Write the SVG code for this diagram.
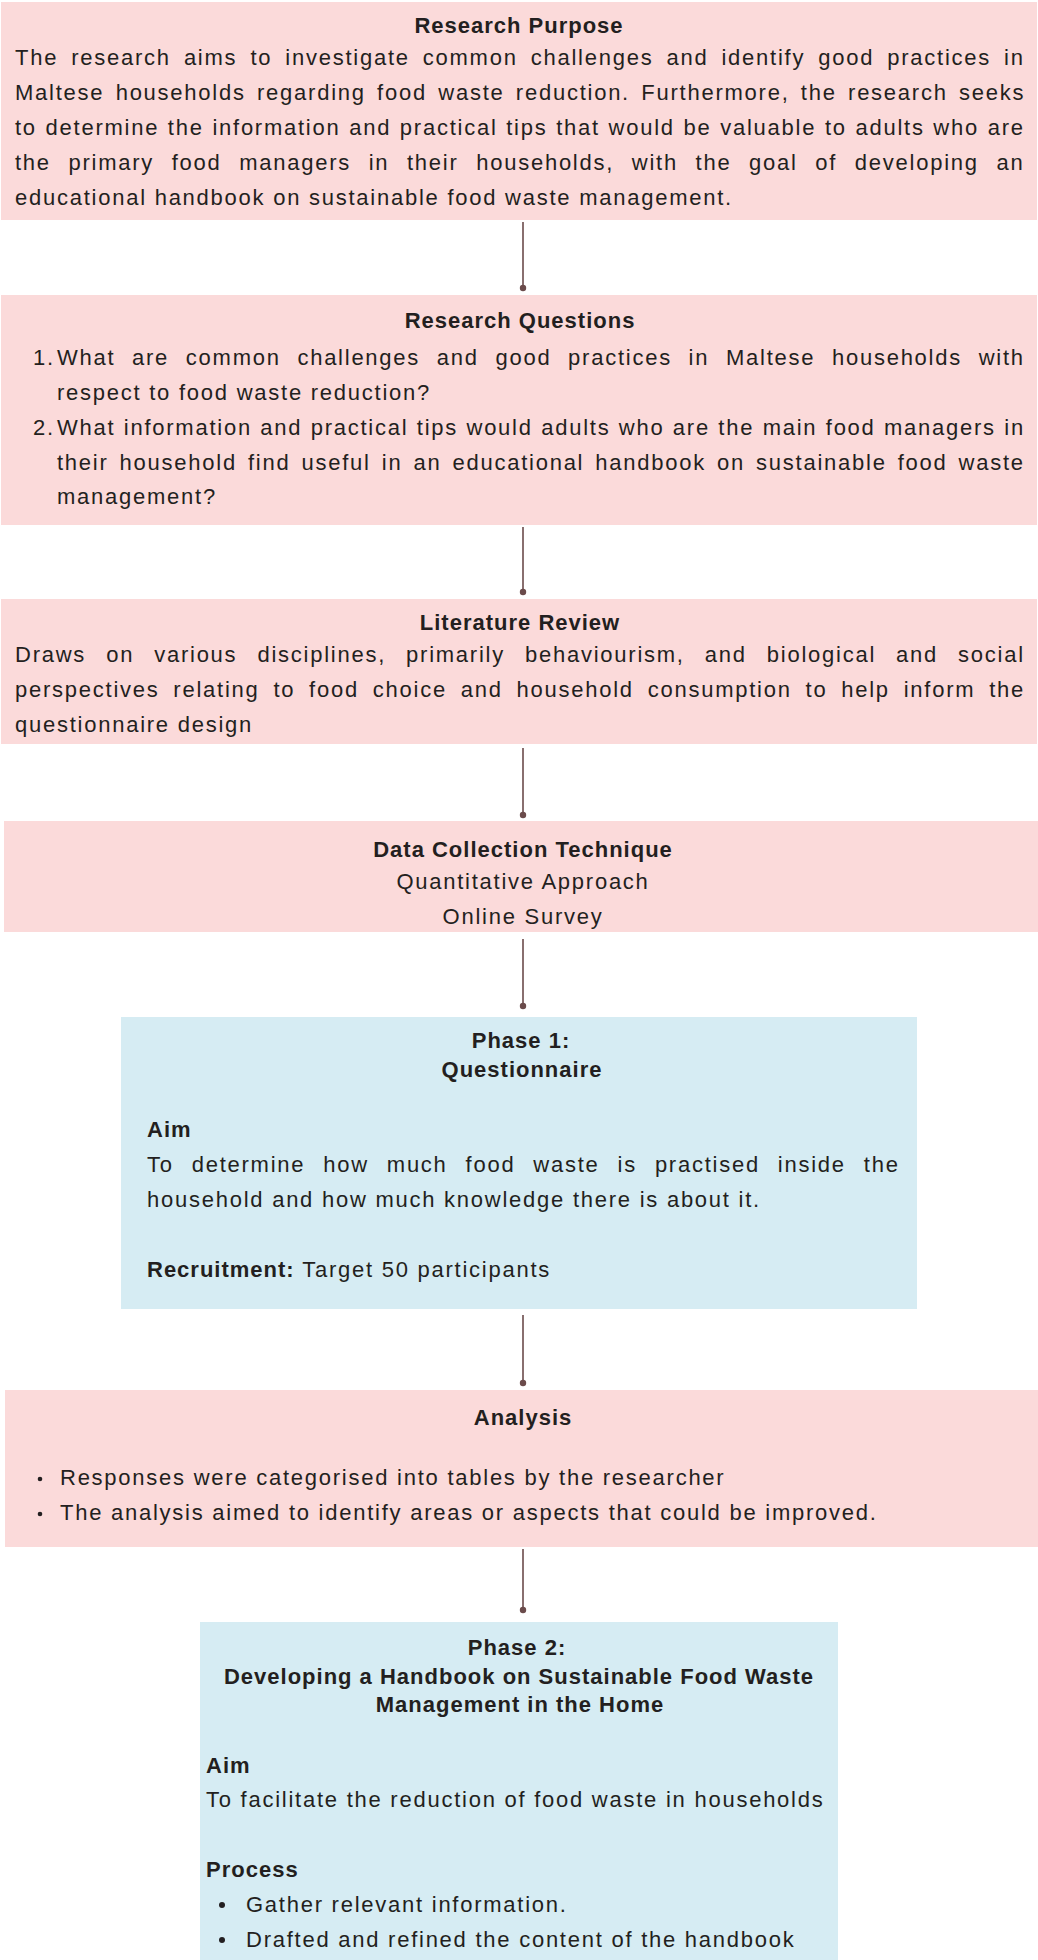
<svg xmlns="http://www.w3.org/2000/svg" width="1038" height="1960" viewBox="0 0 1038 1960">
<style>
.pink{fill:#FBDADA}
.blue{fill:#D6ECF3}
text{font-family:"Liberation Sans",Arial,sans-serif;fill:#231F20}
.b{font-size:22px;font-weight:bold;letter-spacing:1px}
.r{font-size:22px;letter-spacing:1.75px}
.c{text-anchor:middle}
.conn line{stroke:#6B4B4B;stroke-width:1.6}
.conn circle{fill:#6B4B4B}
.dot{fill:#231F20}
</style>
<rect width="1038" height="1960" fill="#ffffff"/>
<g id="research-purpose">
<rect class="pink" x="1" y="2" width="1036" height="218"/>
<text class="b c" x="519" y="33">Research Purpose</text>
<text class="r" x="15" y="65" word-spacing="5.2">The research aims to investigate common challenges and identify good practices in</text>
<text class="r" x="15" y="100" word-spacing="3.5">Maltese households regarding food waste reduction. Furthermore, the research seeks</text>
<text class="r" x="15" y="135" word-spacing="0.85">to determine the information and practical tips that would be valuable to adults who are</text>
<text class="r" x="15" y="170" word-spacing="9.8">the primary food managers in their households, with the goal of developing an</text>
<text class="r" x="15" y="205">educational handbook on sustainable food waste management.</text>
</g>
<g id="research-questions">
<rect class="pink" x="1" y="295" width="1036" height="230"/>
<text class="b c" x="520" y="328">Research Questions</text>
<text class="r" x="33" y="365">1.</text>
<text class="r" x="57" y="365" word-spacing="8.85">What are common challenges and good practices in Maltese households with</text>
<text class="r" x="57" y="400">respect to food waste reduction?</text>
<text class="r" x="33" y="435">2.</text>
<text class="r" x="57" y="435" word-spacing="0.58">What information and practical tips would adults who are the main food managers in</text>
<text class="r" x="57" y="470" word-spacing="3.2">their household find useful in an educational handbook on sustainable food waste</text>
<text class="r" x="57" y="504">management?</text>
</g>
<g id="literature-review">
<rect class="pink" x="1" y="599" width="1036" height="145"/>
<text class="b c" x="520" y="630">Literature Review</text>
<text class="r" x="15" y="662" word-spacing="12.2">Draws on various disciplines, primarily behaviourism, and biological and social</text>
<text class="r" x="15" y="697" word-spacing="6.0">perspectives relating to food choice and household consumption to help inform the</text>
<text class="r" x="15" y="732">questionnaire design</text>
</g>
<g id="data-collection">
<rect class="pink" x="4" y="821" width="1034" height="111"/>
<text class="b c" x="523" y="857">Data Collection Technique</text>
<text class="r c" x="523" y="889">Quantitative Approach</text>
<text class="r c" x="523" y="924">Online Survey</text>
</g>
<g id="phase-1">
<rect class="blue" x="121" y="1017" width="796" height="292"/>
<text class="b c" x="521" y="1048">Phase 1:</text>
<text class="b c" x="522" y="1077">Questionnaire</text>
<text class="b" x="147" y="1137">Aim</text>
<text class="r" x="147" y="1172" word-spacing="10.1">To determine how much food waste is practised inside the</text>
<text class="r" x="147" y="1207">household and how much knowledge there is about it.</text>
<text class="r" x="147" y="1277"><tspan font-weight="bold" letter-spacing="1">Recruitment:</tspan> Target 50 participants</text>
</g>
<g id="analysis">
<rect class="pink" x="5" y="1390" width="1033" height="157"/>
<text class="b c" x="523" y="1425">Analysis</text>
<circle class="dot" cx="40" cy="1479" r="2.3"/>
<text class="r" x="60" y="1485">Responses were categorised into tables by the researcher</text>
<circle class="dot" cx="40" cy="1514" r="2.3"/>
<text class="r" x="60" y="1520">The analysis aimed to identify areas or aspects that could be improved.</text>
</g>
<g id="phase-2">
<rect class="blue" x="200" y="1622" width="638" height="338"/>
<text class="b c" x="517" y="1655">Phase 2:</text>
<text class="b c" x="519" y="1684">Developing a Handbook on Sustainable Food Waste</text>
<text class="b c" x="520" y="1712">Management in the Home</text>
<text class="b" x="206" y="1773">Aim</text>
<text class="r" x="206" y="1807">To facilitate the reduction of food waste in households</text>
<text class="b" x="206" y="1877">Process</text>
<circle class="dot" cx="222" cy="1905" r="3"/>
<text class="r" x="246" y="1912">Gather relevant information.</text>
<circle class="dot" cx="222" cy="1940" r="3"/>
<text class="r" x="246" y="1947">Drafted and refined the content of the handbook</text>
</g>
<g id="connectors" class="conn">
<line x1="523" y1="222" x2="523" y2="288"/><circle cx="523" cy="288" r="3.2"/>
<line x1="523" y1="527" x2="523" y2="592"/><circle cx="523" cy="592" r="3.2"/>
<line x1="523" y1="748" x2="523" y2="815"/><circle cx="523" cy="815" r="3.2"/>
<line x1="523" y1="939" x2="523" y2="1006"/><circle cx="523" cy="1006" r="3.2"/>
<line x1="523" y1="1315" x2="523" y2="1383"/><circle cx="523" cy="1383" r="3.2"/>
<line x1="523" y1="1549" x2="523" y2="1610"/><circle cx="523" cy="1610" r="3.2"/>
</g>
</svg>
